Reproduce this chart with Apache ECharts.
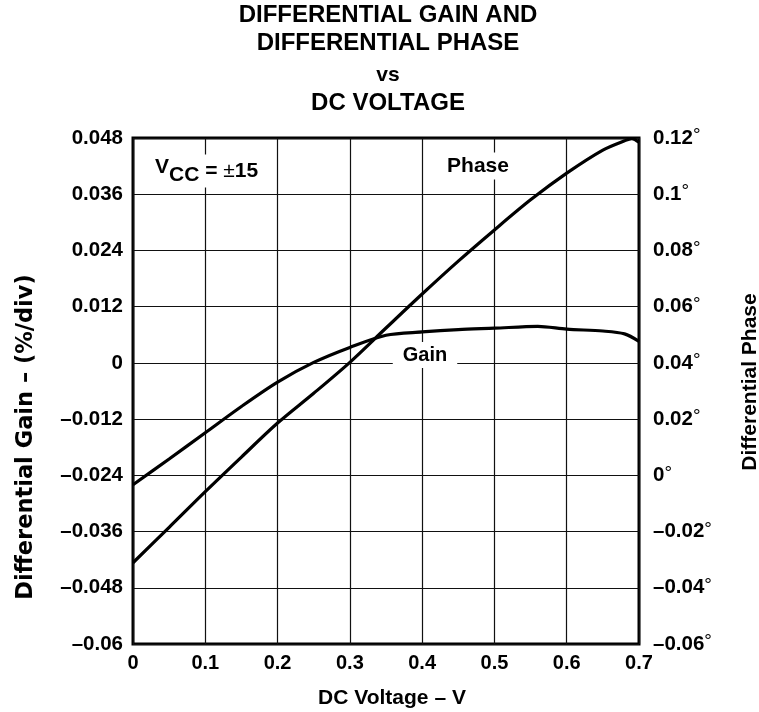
<!DOCTYPE html>
<html><head><meta charset="utf-8">
<script src="https://cdn.jsdelivr.net/npm/echarts@6/dist/echarts.min.js"></script>
<style>html,body{margin:0;padding:0;background:#fff}#c{width:759px;height:712px}</style>
</head><body><div id="c"></div>
<script>
// ---- data ----
const gainVoltage = [0, 0.05, 0.1, 0.15, 0.2, 0.25, 0.3, 0.35, 0.4, 0.45, 0.5, 0.56, 0.6, 0.65, 0.68, 0.7];
const gainValues  = [-0.026, -0.0205, -0.0149, -0.0093, -0.0041, 0.0001, 0.0033, 0.0059, 0.0066, 0.0071, 0.0074, 0.0078, 0.0072, 0.0068, 0.0062, 0.0046];
const phaseVoltage = [0, 0.05, 0.1, 0.15, 0.2, 0.25, 0.3, 0.35, 0.4, 0.45, 0.5, 0.55, 0.6, 0.65, 0.68, 0.69, 0.7];
const phaseValues  = [-0.0311, -0.0185, -0.0058, 0.0065, 0.0186, 0.0292, 0.0402, 0.0524, 0.0645, 0.0762, 0.0873, 0.098, 0.1075, 0.1157, 0.119, 0.1198, 0.1185];
const titleLines = ['DIFFERENTIAL GAIN AND', 'DIFFERENTIAL PHASE', 'vs', 'DC VOLTAGE'];
const xAxisName = 'DC Voltage – V';
const leftAxisName = 'Differential Gain – (%/div)';
const rightAxisName = 'Differential Phase';
const gainLabel = 'Gain';
const phaseLabel = 'Phase';

const FONT = '"Liberation Sans", Arial, Helvetica, sans-serif';
const dash = s => s.replace('-', '\u2013');

const chart = echarts.init(document.getElementById('c'));
const gainData = gainVoltage.map((v, i) => [v, gainValues[i]]);
const phaseData = phaseVoltage.map((v, i) => [v, phaseValues[i]]);

const titleY = [15, 43, 75, 103];
const titleSize = [24, 24, 21, 24];

const option = {
  backgroundColor: '#fff',
  animation: false,
  grid: { left: 133, right: 120, top: 138, bottom: 68, show: true, borderColor: '#000', borderWidth: 3, backgroundColor: 'transparent' },
  xAxis: {
    type: 'value', min: 0, max: 0.7, interval: 0.1,
    axisLine: { show: false }, axisTick: { show: false },
    splitLine: { show: true, lineStyle: { color: '#111', width: 1.2 } },
    axisLabel: { color: '#000', fontFamily: FONT, fontWeight: 'bold', fontSize: 20, margin: 9,
      formatter: v => String(Math.round(v * 10) / 10) }
  },
  yAxis: [
    {
      type: 'value', min: -0.06, max: 0.048, interval: 0.012,
      axisLine: { show: false }, axisTick: { show: false },
      splitLine: { show: true, lineStyle: { color: '#111', width: 1.2 } },
      axisLabel: { color: '#000', fontFamily: FONT, fontWeight: 'bold', fontSize: 20.5, margin: 10,
        formatter: v => dash(String(Math.round(v * 1000) / 1000)) }
    },
    {
      type: 'value', min: -0.06, max: 0.12, interval: 0.02, position: 'right',
      axisLine: { show: false }, axisTick: { show: false }, splitLine: { show: false },
      axisLabel: { color: '#000', fontFamily: FONT, fontWeight: 'bold', fontSize: 20.5, margin: 14,
        formatter: v => '{n|' + dash(String(Math.round(v * 100) / 100)) + '}{d|\u00b0}',
        rich: {
          n: { fontFamily: FONT, fontWeight: 'bold', fontSize: 20.5, color: '#000' },
          d: { fontFamily: FONT, fontWeight: 'normal', fontSize: 19, color: '#000', verticalAlign: 'top', padding: [0, 0, 4, 0] }
        } }
    }
  ],
  series: [
    { name: 'Gain', type: 'line', yAxisIndex: 0, data: gainData, smooth: 0.3, symbol: 'none',
      lineStyle: { color: '#000', width: 3.2 }, z: 5 },
    { name: 'Phase', type: 'line', yAxisIndex: 1, data: phaseData, smooth: 0.3, symbol: 'none',
      lineStyle: { color: '#000', width: 3.2 }, z: 5 }
  ],
  graphic: [
    ...titleLines.map((t, i) => ({
      type: 'text', x: 388, y: titleY[i],
      style: { text: t, fill: '#000', font: 'bold ' + titleSize[i] + 'px ' + FONT, textAlign: 'center', textVerticalAlign: 'middle' }
    })),
    { type: 'text', x: 392, y: 698,
      style: { text: xAxisName, fill: '#000', font: 'bold 21px ' + FONT, textAlign: 'center', textVerticalAlign: 'middle' } },
    { type: 'text', x: 26, y: 437, rotation: Math.PI / 2,
      style: { text: leftAxisName, fill: '#000', font: 'bold 22.5px "DejaVu Sans", ' + FONT, textAlign: 'center', textVerticalAlign: 'middle' } },
    { type: 'text', x: 750, y: 382, rotation: Math.PI / 2,
      style: { text: rightAxisName, fill: '#000', font: 'bold 21px ' + FONT, textAlign: 'center', textVerticalAlign: 'middle' } },
    { type: 'text', x: 152, y: 171, z: 10,
      style: {
        text: '{v|V}{s|CC}{e| = }{pm|\u00b1}{e|15}',
        rich: {
          v: { fontFamily: FONT, fontWeight: 'bold', fontSize: 21, color: '#000', padding: [0, 0, 8, 0] },
          s: { fontFamily: FONT, fontWeight: 'bold', fontSize: 21, color: '#000', padding: [8, 0, 0, 0] },
          e: { fontFamily: FONT, fontWeight: 'bold', fontSize: 21, color: '#000' },
          pm: { fontFamily: FONT, fontWeight: 'normal', fontSize: 21, color: '#000' }
        },
        textVerticalAlign: 'middle', backgroundColor: '#fff', padding: [2, 3, 2, 3]
      } },
    { type: 'text', x: 478, y: 166, z: 10,
      style: { text: phaseLabel, fill: '#000', font: 'bold 21px ' + FONT, textAlign: 'center', textVerticalAlign: 'middle',
        backgroundColor: '#fff', padding: [3, 4, 3, 4] } },
    { type: 'text', x: 425, y: 355, z: 10,
      style: { text: gainLabel, fill: '#000', font: 'bold 20px ' + FONT, textAlign: 'center', textVerticalAlign: 'middle',
        backgroundColor: '#fff', padding: [3, 10, 3, 10] } }
  ]
};
chart.setOption(option);
</script></body></html>
